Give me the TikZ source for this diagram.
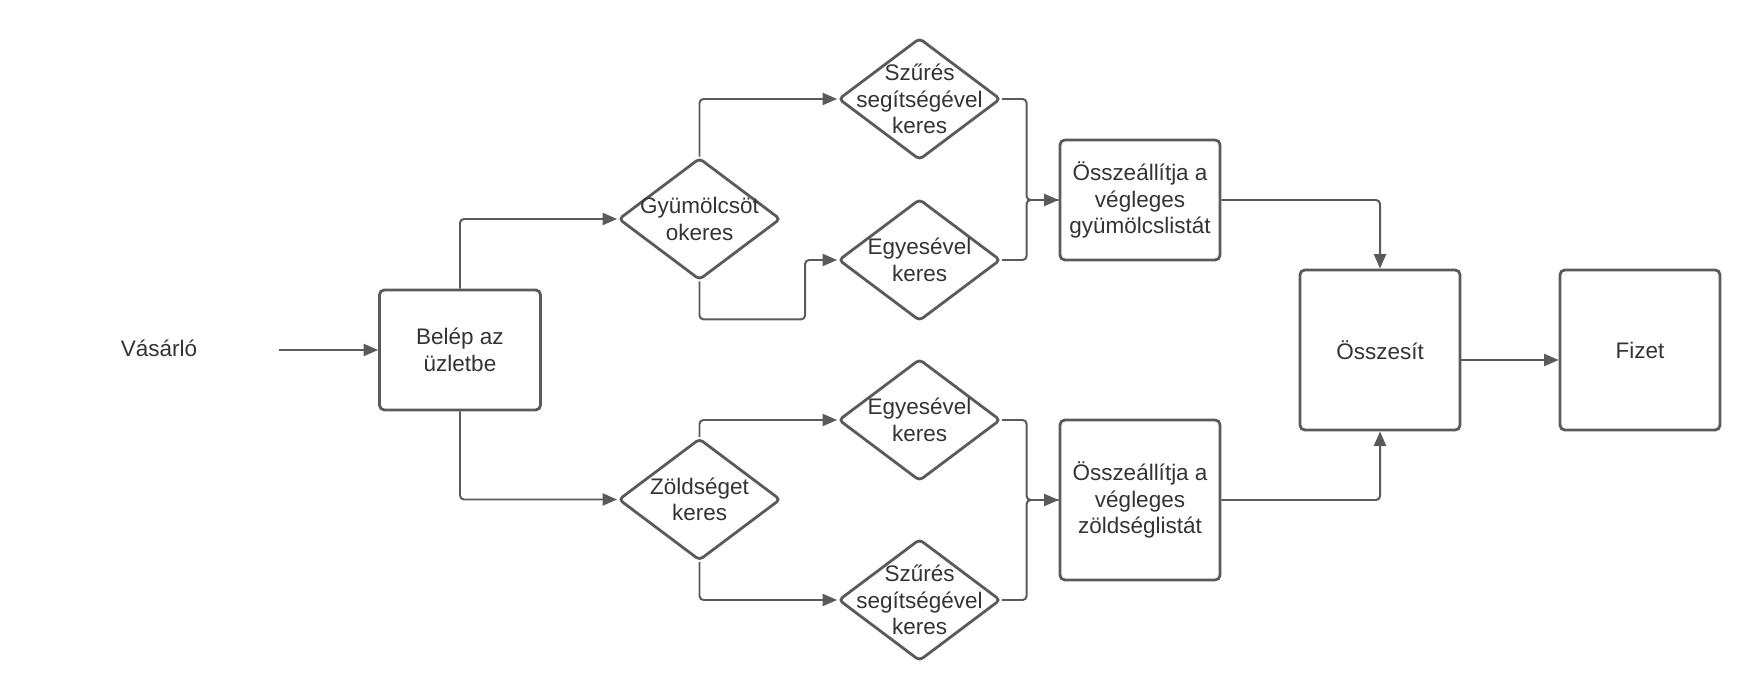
\documentclass[tikz,border=0pt]{standalone}
\usepackage{fontspec}
\setmainfont{Liberation Sans}
\usetikzlibrary{shapes.geometric,arrows.meta}
\definecolor{linegray}{HTML}{5A5A5A}
\definecolor{textgray}{HTML}{333333}

\begin{document}
\begin{tikzpicture}[
    box/.style={
        rectangle, draw=linegray, line width=2pt, rounded corners=1.2mm,
        minimum width=4cm, minimum height=3cm,
        align=center
    },
    decision/.style={
        diamond, draw=linegray, line width=2pt, rounded corners=1mm,
        minimum width=4.05cm, minimum height=3.05cm, inner sep=0pt
    },
    labelbox/.style={align=center, inner sep=2pt},
    arrow/.style={->, line width=1.4pt, draw=linegray, rounded corners=1mm,
        >={Triangle[length=3.6mm,width=3mm]}},
    every node/.style={font=\fontsize{16}{18.9}\selectfont, text=textgray},
    every label/.style={align=center}
]
\useasboundingbox (0,0) rectangle (44,17.5);

% Start
\node[labelbox] (vasarlo) at (3.975,8.8) {Vásárló};
\coordinate (start) at (6.975,8.75);
\node[box, minimum width=4.025cm] (belep) at (11.5,8.75) {Belép az\\üzletbe};

% Fruit branch
\node[decision, label={center:Gyümölcsöt\\okeres}] (gyum) at (17.4875,12.025) {};
\node[decision, label={center:Szűrés\\segítségével\\keres}] (szur1) at (22.9875,15.025) {};
\node[decision, label={center:Egyesével\\keres}] (egy1) at (22.9875,11.0) {};
\node[box] (gyumlist) at (28.5,12.5) {Összeállítja a\\végleges\\gyümölcslistát};

% Vegetable branch
\node[decision, label={center:Zöldséget\\keres}] (zold) at (17.4875,5.0125) {};
\node[decision, label={center:Egyesével\\keres}] (egy2) at (22.9875,7.0) {};
\node[decision, label={center:Szűrés\\segítségével\\keres}] (szur2) at (22.9875,2.5) {};
\node[box, minimum height=4cm] (zoldlist) at (28.5,5.0) {Összeállítja a\\végleges\\zöldséglistát};

% End
\node[box, minimum height=4cm] (osszesit) at (34.5,8.75) {Összesít};
\node[box, minimum height=4cm] (fizet) at (41.0,8.75) {Fizet};

% Arrows
\draw[arrow] (start) -- (belep);
\draw[arrow] (belep.north) |- (gyum.west);
\draw[arrow] (belep.south) |- (zold.west);

\draw[arrow] (gyum.north) |- (szur1.west);
\draw[arrow] (gyum.south) -- ++(0,-0.95) -| ([xshift=-0.8cm]egy1.west) -- (egy1.west);
\draw[arrow] (szur1.east) -| ([xshift=-0.8cm]gyumlist.west) -- (gyumlist.west);
\draw[arrow, -] (egy1.east) -| ([xshift=-0.8cm]gyumlist.west) -- (gyumlist.west);

\draw[arrow] (zold.north) |- (egy2.west);
\draw[arrow] (zold.south) |- (szur2.west);
\draw[arrow] (egy2.east) -| ([xshift=-0.8cm]zoldlist.west) -- (zoldlist.west);
\draw[arrow, -] (szur2.east) -| ([xshift=-0.8cm]zoldlist.west) -- (zoldlist.west);

\draw[arrow] (gyumlist.east) -| (osszesit.north);
\draw[arrow] (zoldlist.east) -| (osszesit.south);
\draw[arrow] ([yshift=-0.25cm]osszesit.east) -- ([yshift=-0.25cm]fizet.west);

\end{tikzpicture}
\end{document}
